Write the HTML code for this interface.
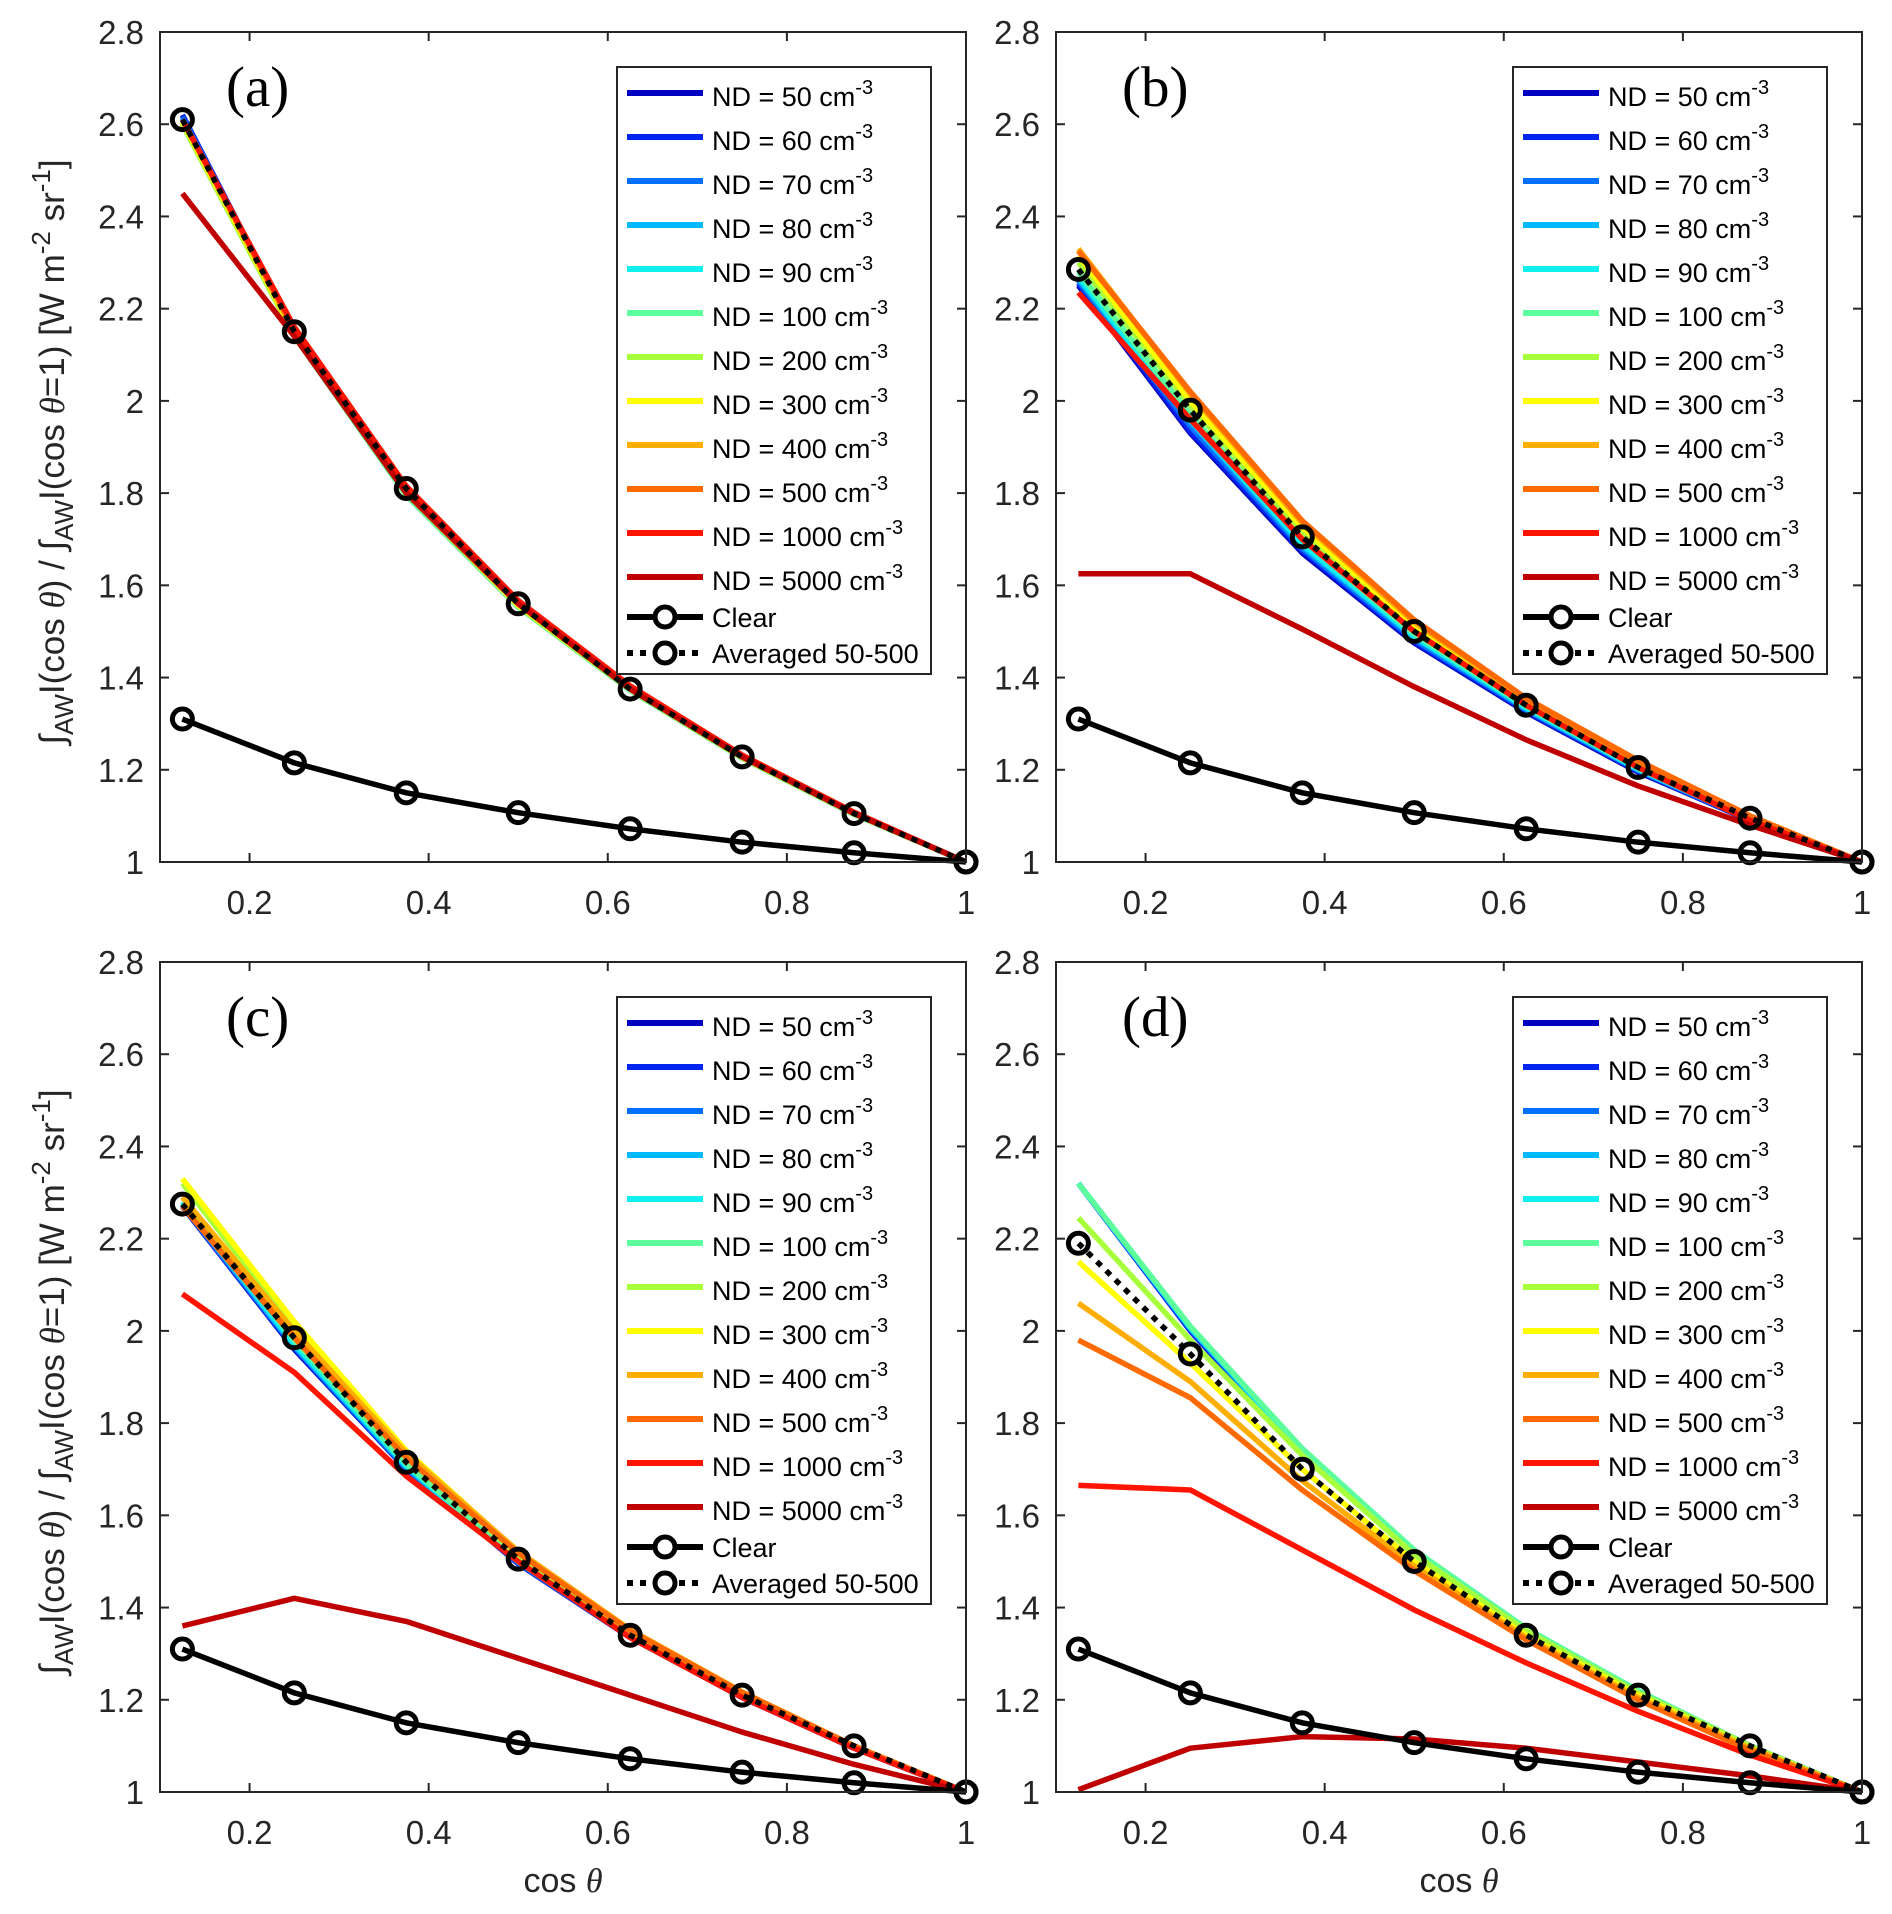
<!DOCTYPE html>
<html><head><meta charset="utf-8"><style>
html,body{margin:0;padding:0;background:#fff}
svg{display:block}
text{font-family:"Liberation Sans",Arial,sans-serif;fill:#262626}
</style></head><body>
<svg id="fig" width="1892" height="1914" viewBox="0 0 1892 1914" xmlns="http://www.w3.org/2000/svg"></svg>
<script>
const xs = [0.125,0.25,0.375,0.5,0.625,0.75,0.875,1];
const ndLabels = ["50","60","70","80","90","100","200","300","400","500","1000","5000"];
const colors = ["#0000c0","#0025f0","#0070ff","#00b8ff","#10f0f0","#5cff9c","#a8ff3c","#ffff00","#ffae00","#ff6a00","#ff1400","#c00000"];
const xTicks = [0.2,0.4,0.6,0.8,1];
const yTicks = [1,1.2,1.4,1.6,1.8,2,2.2,2.4,2.6,2.8];
const yTickLabels = ["1","1.2","1.4","1.6","1.8","2","2.2","2.4","2.6","2.8"];
const clearVals = [1.31,1.215,1.15,1.107,1.072,1.043,1.02,1];

const aND = [
 [2.62,2.15,1.80,1.56,1.375,1.228,1.105,1],
 [2.62,2.15,1.80,1.56,1.375,1.228,1.105,1],
 [2.615,2.15,1.80,1.56,1.375,1.228,1.105,1],
 [2.61,2.15,1.80,1.56,1.375,1.228,1.105,1],
 [2.61,2.15,1.80,1.555,1.373,1.226,1.104,1],
 [2.60,2.14,1.795,1.553,1.372,1.225,1.103,1],
 [2.60,2.14,1.80,1.555,1.374,1.226,1.104,1],
 [2.605,2.145,1.80,1.557,1.375,1.227,1.105,1],
 [2.61,2.15,1.805,1.56,1.377,1.228,1.106,1],
 [2.61,2.155,1.81,1.563,1.379,1.23,1.107,1],
 [2.61,2.16,1.815,1.567,1.382,1.232,1.108,1],
 [2.45,2.14,1.80,1.56,1.375,1.228,1.105,1]];
const aAvg = [2.61,2.15,1.81,1.56,1.375,1.228,1.105,1];

const bND = [
 [2.25,1.93,1.67,1.475,1.325,1.195,1.09,1],
 [2.255,1.935,1.675,1.478,1.327,1.197,1.09,1],
 [2.26,1.945,1.68,1.482,1.33,1.199,1.091,1],
 [2.265,1.955,1.685,1.487,1.332,1.2,1.092,1],
 [2.27,1.96,1.69,1.49,1.335,1.202,1.093,1],
 [2.28,1.97,1.70,1.495,1.338,1.204,1.094,1],
 [2.30,1.99,1.715,1.505,1.343,1.208,1.096,1],
 [2.315,2.00,1.725,1.512,1.347,1.212,1.098,1],
 [2.33,2.015,1.735,1.52,1.352,1.216,1.10,1],
 [2.325,2.02,1.74,1.525,1.355,1.22,1.10,1],
 [2.235,1.96,1.70,1.50,1.34,1.205,1.09,1],
 [1.625,1.625,1.505,1.38,1.265,1.165,1.08,1]];
const bAvg = [2.285,1.98,1.705,1.50,1.34,1.205,1.095,1];

const cND = [
 [2.27,1.96,1.70,1.495,1.335,1.205,1.095,1],
 [2.27,1.962,1.70,1.496,1.336,1.205,1.095,1],
 [2.272,1.965,1.702,1.497,1.336,1.206,1.096,1],
 [2.275,1.968,1.705,1.499,1.337,1.207,1.096,1],
 [2.28,1.972,1.708,1.50,1.338,1.208,1.097,1],
 [2.29,1.98,1.712,1.503,1.34,1.209,1.097,1],
 [2.32,2.005,1.73,1.513,1.346,1.212,1.099,1],
 [2.33,2.02,1.74,1.52,1.35,1.215,1.10,1],
 [2.29,2.00,1.735,1.522,1.352,1.217,1.10,1],
 [2.27,1.985,1.725,1.518,1.35,1.216,1.10,1],
 [2.08,1.91,1.685,1.50,1.335,1.205,1.095,1],
 [1.36,1.42,1.37,1.29,1.21,1.13,1.06,1]];
const cAvg = [2.275,1.985,1.715,1.505,1.34,1.21,1.10,1];

const dND = [
 [2.32,2.00,1.735,1.518,1.35,1.215,1.10,1],
 [2.32,2.00,1.737,1.519,1.351,1.216,1.10,1],
 [2.32,2.005,1.74,1.52,1.352,1.217,1.10,1],
 [2.32,2.005,1.74,1.521,1.352,1.217,1.10,1],
 [2.32,2.008,1.742,1.522,1.353,1.218,1.10,1],
 [2.32,2.01,1.745,1.525,1.355,1.22,1.10,1],
 [2.245,1.98,1.73,1.515,1.35,1.215,1.10,1],
 [2.15,1.93,1.70,1.50,1.34,1.21,1.095,1],
 [2.06,1.89,1.675,1.49,1.335,1.205,1.095,1],
 [1.98,1.855,1.655,1.48,1.33,1.20,1.09,1],
 [1.665,1.655,1.525,1.395,1.28,1.175,1.08,1],
 [1.005,1.095,1.12,1.115,1.095,1.065,1.035,1]];
const dAvg = [2.19,1.95,1.70,1.50,1.34,1.21,1.10,1];

const panels = [
 {id:"a", nd:aND, avg:aAvg, L:160, T:32, ylab:true, xlab:false},
 {id:"b", nd:bND, avg:bAvg, L:1056, T:32, ylab:false, xlab:false},
 {id:"c", nd:cND, avg:cAvg, L:160, T:962, ylab:true, xlab:true},
 {id:"d", nd:dND, avg:dAvg, L:1056, T:962, ylab:false, xlab:true}];
const W = 806, H = 830;
const NS = "http://www.w3.org/2000/svg";
const svg = document.getElementById("fig");
function mk(tag, attrs, parent){const e=document.createElementNS(NS,tag);for(const k in attrs)e.setAttribute(k,attrs[k]);(parent||svg).appendChild(e);return e;}

panels.forEach(p=>{
  const g = mk("g",{});
  
  
  const sx = v => p.L + (v-0.1)/0.9*W;
  const sy = v => p.T + H - (v-1)/1.8*H;
  const B = p.T+H, R = p.L+W;
  p.nd.forEach((vals,i)=>{
    const pl = mk("polyline",{points: vals.map((v,j)=>sx(xs[j])+","+sy(v)).join(" "),fill:"none",stroke:colors[i],"stroke-width":5.5,"stroke-linejoin":"round"},g);
    
    
  });
  const cl = mk("polyline",{points: clearVals.map((v,j)=>sx(xs[j])+","+sy(v)).join(" "),fill:"none",stroke:"#000","stroke-width":5.5},g);
  
  
  const av = mk("polyline",{points: p.avg.map((v,j)=>sx(xs[j])+","+sy(v)).join(" "),fill:"none",stroke:"#000","stroke-width":5.5,"stroke-dasharray":"6 7"},g);
  
  
  clearVals.forEach((v,j)=>{
    const c = mk("circle",{cx:sx(xs[j]),cy:sy(v),r:10,fill:"none",stroke:"#000","stroke-width":5},g);
    
    
  });
  p.avg.forEach((v,j)=>{
    const c = mk("circle",{cx:sx(xs[j]),cy:sy(v),r:10,fill:"none",stroke:"#000","stroke-width":5},g);
    
    
  });
  const box = mk("rect",{x:p.L,y:p.T,width:W,height:H,fill:"none",stroke:"#262626","stroke-width":2},g);
  
  
  xTicks.forEach(t=>{
    const x=sx(t);
    mk("line",{x1:x,y1:B,x2:x,y2:B-9,stroke:"#262626","stroke-width":2},g);
    mk("line",{x1:x,y1:p.T,x2:x,y2:p.T+9,stroke:"#262626","stroke-width":2},g);
    const tx = mk("text",{x:x,y:B+52,"font-size":33,"text-anchor":"middle"},g);
    tx.textContent = String(t);
    
    
  });
  yTicks.forEach((t,i)=>{
    const y=sy(t);
    mk("line",{x1:p.L,y1:y,x2:p.L+9,y2:y,stroke:"#262626","stroke-width":2},g);
    mk("line",{x1:R,y1:y,x2:R-9,y2:y,stroke:"#262626","stroke-width":2},g);
    const tx = mk("text",{x:p.L-16,y:y+12,"font-size":33,"text-anchor":"end"},g);
    tx.textContent = yTickLabels[i];
    
    
  });
  const pl = mk("text",{x:p.L+66,y:p.T+74,"font-size":57,style:"font-family:'Liberation Serif',serif;fill:#000"},g);
  pl.textContent = "("+p.id+")";
  
  
  const lg = mk("g",{},g);
  
  
  const lx = p.L+457, ly = p.T+35;
  mk("rect",{x:lx,y:ly,width:314,height:607,fill:"#fff",stroke:"#262626","stroke-width":2},lg);
  ndLabels.forEach((n,i)=>{
    const y = ly+26+i*44;
    const e = mk("g",{},lg);
    
    
    mk("line",{x1:lx+10,y1:y,x2:lx+86,y2:y,stroke:colors[i],"stroke-width":6},e);
    const t = mk("text",{x:lx+95,y:y+13,"font-size":27,style:"fill:#000"},e);
    t.textContent = "ND = "+n+" cm";
    const s = mk("tspan",{dy:-12,"font-size":20},t);
    s.textContent = "-3";
  });
  [["Clear",false,ly+550],["Averaged 50-500",true,ly+586]].forEach(([lab,dash,y])=>{
    const e = mk("g",{},lg);
    
    
    const a={x1:lx+10,y1:y,x2:lx+86,y2:y,stroke:"#000","stroke-width":6};
    if(dash) a["stroke-dasharray"]="6 7";
    mk("line",a,e);
    mk("circle",{cx:lx+48,cy:y,r:10,fill:"#fff",stroke:"#000","stroke-width":5},e);
    const t = mk("text",{x:lx+95,y:y+10,"font-size":27,style:"fill:#000"},e);
    t.textContent = lab;
  });
  if(p.ylab){
    const t = mk("text",{transform:"translate(64,"+(p.T+H/2+5)+") rotate(-90)","font-size":35,"text-anchor":"middle"},g);
    
    
    t.innerHTML = '∫<tspan dy="9" font-size="26">AW</tspan><tspan dy="-9">I(cos </tspan><tspan font-style="italic" style="font-family:\'Liberation Serif\',serif">θ</tspan>) / ∫<tspan dy="9" font-size="26">AW</tspan><tspan dy="-9">I(cos </tspan><tspan font-style="italic" style="font-family:\'Liberation Serif\',serif">θ</tspan>=1)  [W m<tspan dy="-14" font-size="26">-2</tspan><tspan dy="14"> sr</tspan><tspan dy="-14" font-size="26">-1</tspan><tspan dy="14">]</tspan>';
  }
  if(p.xlab){
    const t = mk("text",{x:p.L+W/2,y:B+100,"font-size":34,"text-anchor":"middle"},g);
    
    
    t.innerHTML = 'cos <tspan font-style="italic" style="font-family:\'Liberation Serif\',serif">θ</tspan>';
  }
});
</script>
</body></html>
